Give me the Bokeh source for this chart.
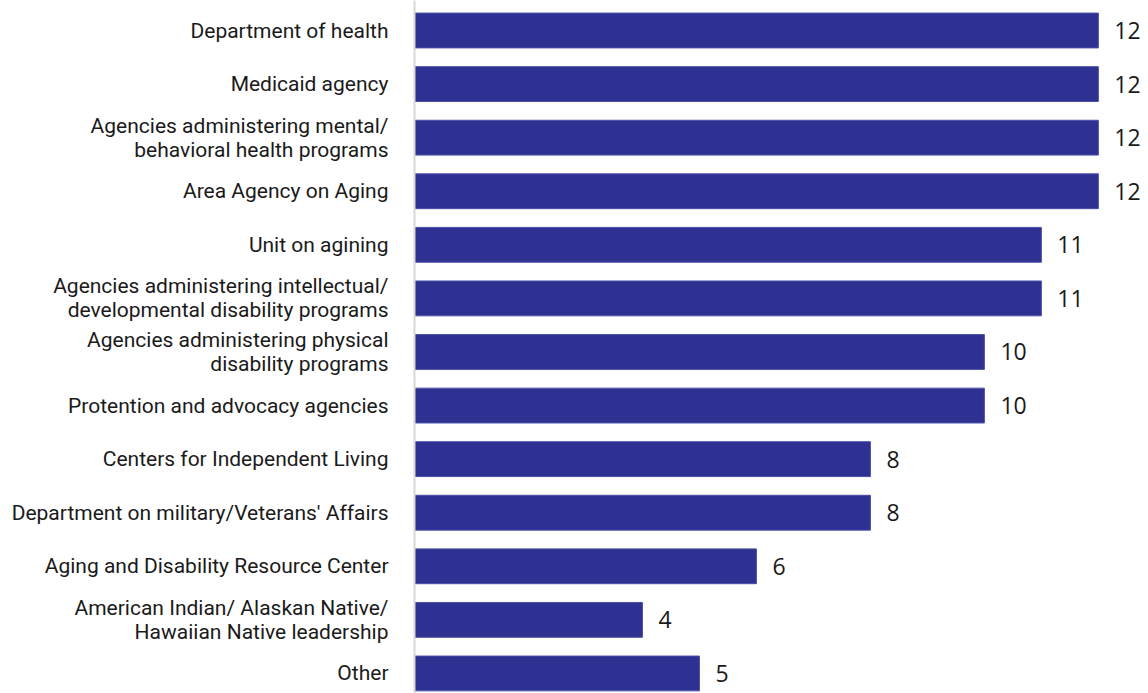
from bokeh.plotting import figure
from bokeh.models import Range1d, FixedTicker, ColumnDataSource
from bokeh.core.properties import value
from bokeh.embed import file_html
from bokeh.resources import INLINE

categories = [
    "Department of health",
    "Medicaid agency",
    "Agencies administering mental/\nbehavioral health programs",
    "Area Agency on Aging",
    "Unit on agining",
    "Agencies administering intellectual/\ndevelopmental disability programs",
    "Agencies administering physical\ndisability programs",
    "Protention and advocacy agencies",
    "Centers for Independent Living",
    "Department on military/Veterans' Affairs",
    "Aging and Disability Resource Center",
    "American Indian/ Alaskan Native/\nHawaiian Native leadership",
    "Other",
]
counts = [12, 12, 12, 12, 11, 11, 10, 10, 8, 8, 6, 4, 5]

n = len(categories)
ypos = [n - 1 - i for i in range(n)]
src = ColumnDataSource(dict(y=ypos, v=counts, lab=[str(c) for c in counts]))

p = figure(width=1148, height=693, output_backend="svg", toolbar_location=None,
           x_range=Range1d(0, 12.88), y_range=Range1d(-0.374, 12.56),
           min_border_left=414, min_border_right=0, min_border_top=0, min_border_bottom=0)

p.hbar(y="y", right="v", left=0, height=0.65, source=src,
       fill_color="#2E3192", line_color="#4a4ea6", line_width=1)
p.text(x="v", y="y", text="lab", source=src, x_offset=16,
       text_align="left", text_baseline="middle",
       text_font=value("Open Sans"), text_font_size="23px", text_color="#1a1a1a")

p.xaxis.visible = False
p.xgrid.visible = False
p.ygrid.visible = False
p.outline_line_color = None

ax = p.yaxis[0]
ax.ticker = FixedTicker(ticks=ypos)
ax.major_label_overrides = {y: c for y, c in zip(ypos, categories)}
ax.major_tick_line_color = None
ax.minor_tick_line_color = None
ax.axis_line_color = "#dcd7d2"
ax.axis_line_width = 2
ax.major_label_standoff = 20
ax.major_label_text_font = "Roboto"
ax.major_label_text_font_size = "21px"
ax.major_label_text_color = "#1a1a1a"
ax.major_label_text_align = "right"
ax.major_label_text_line_height = 1.0

open("out.html", "w").write(file_html(p, INLINE))
